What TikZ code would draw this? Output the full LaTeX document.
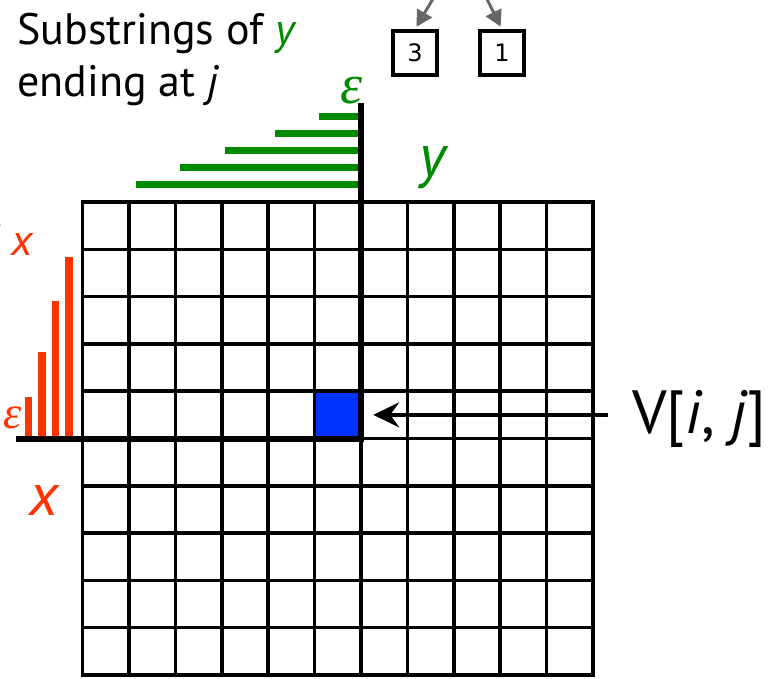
\documentclass[tikz,border=0pt]{standalone}
\usepackage{fontspec}
\setmainfont{PT Sans}
\newfontfamily\boxfont{DejaVu Sans}
\newfontfamily\epsfont{Liberation Serif}
\usetikzlibrary{arrows.meta}
\definecolor{Ink}{HTML}{000000}
\definecolor{Cell}{HTML}{0033FF}
\definecolor{Xred}{HTML}{FF3300}
\definecolor{Ygreen}{HTML}{008A00}
\definecolor{Edge}{HTML}{666666}

\begin{document}
\begin{tikzpicture}[x=1pt,y=-1pt,
    txt/.style={inner sep=0pt,text=Ink},
    gridline/.style={draw=Ink,line width=3.5pt,line cap=rect},
    axis/.style={draw=Ink,line width=6pt},
    ybar/.style={draw=Ygreen,line width=7pt},
    xbar/.style={draw=Xred,line width=7.5pt},
    cellfill/.style={fill=Cell,inner sep=0pt,minimum width=46.4pt,minimum height=47.3pt},
    numbox/.style={draw=Ink,line width=3.3pt,fill=white,minimum size=44pt,inner sep=0pt,font=\boxfont\fontsize{24}{24}\selectfont},
    treearrow/.style={draw=Edge,line width=3pt,shorten >=3pt,-{Triangle[length=16pt,width=17pt]}},
    pointer/.style={draw=Ink,line width=3.5pt,shorten >=12pt,-{Stealth[length=26pt,width=25pt,inset=9pt]}}]
  \useasboundingbox (0,0) rectangle (768,678);
  \clip (0,0) rectangle (768,678);
  \node[cellfill] (vcell) at (337.8,414.85) {};
  \foreach \i in {0,...,11}
    \draw[gridline] ({82.6+46.4*\i},202) -- ++(0,473);
  \foreach \j in {0,...,10}
    \draw[gridline] (82.6,{202+47.3*\j}) -- ++(510.4,0);
  \draw[axis] (361,103) -- (361,438.5) -- (16,438.5);
  \foreach \left/\y in {319/116.7,275/133.3,225/150.7,180/167.3,136/184.3}
    \draw[ybar] (\left,\y) -- (358,\y);
  \foreach \x/\top in {28.7/397,42/352,55.5/301,68.8/257}
    \draw[xbar] (\x,435.5) -- (\x,\top);
  \node[txt,anchor=north west,align=left,font=\fontsize{44}{52}\selectfont] (ytitle) at (17,13)
    {Substrings of \textcolor{Ygreen}{\textit{y}}\\ending at \textit{j}};
  \node[txt,anchor=base east,font=\fontsize{44}{52}\selectfont] (xtitle) at (34,255)
    {Substrings of \textcolor{Xred}{\textit{x}}};
  \node[txt,text=Ygreen,anchor=south,font=\epsfont\itshape\fontsize{56}{56}\selectfont] (yeps) at (352,104) {ε};
  \node[txt,text=Xred,anchor=south east,font=\epsfont\itshape\fontsize{46}{46}\selectfont] (xeps) at (22,429) {ε};
  \node[txt,text=Ygreen,anchor=base west,font=\fontsize{60}{60}\selectfont\itshape] (yname) at (419,176) {y};
  \node[txt,text=Xred,anchor=base west,font=\fontsize{60}{60}\selectfont\itshape] (xname) at (29,515) {x};
  \node[txt,inner xsep=24pt,anchor=base west,font=\fontsize{61}{61}\selectfont] (vij) at (608,433)
    {V[\textit{i}, \textit{j}]};
  \draw[pointer] (vij.west |- vcell) -- (vcell.east);
  \node[numbox] (b3) at (415,53) {3};
  \node[numbox] (b1) at (502,53) {1};
  \coordinate (p3) at (441,-15);
  \coordinate (p1) at (480,-15);
  \draw[treearrow] (p3) -- (b3.north);
  \draw[treearrow] (p1) -- (b1.north);
\end{tikzpicture}
\end{document}
